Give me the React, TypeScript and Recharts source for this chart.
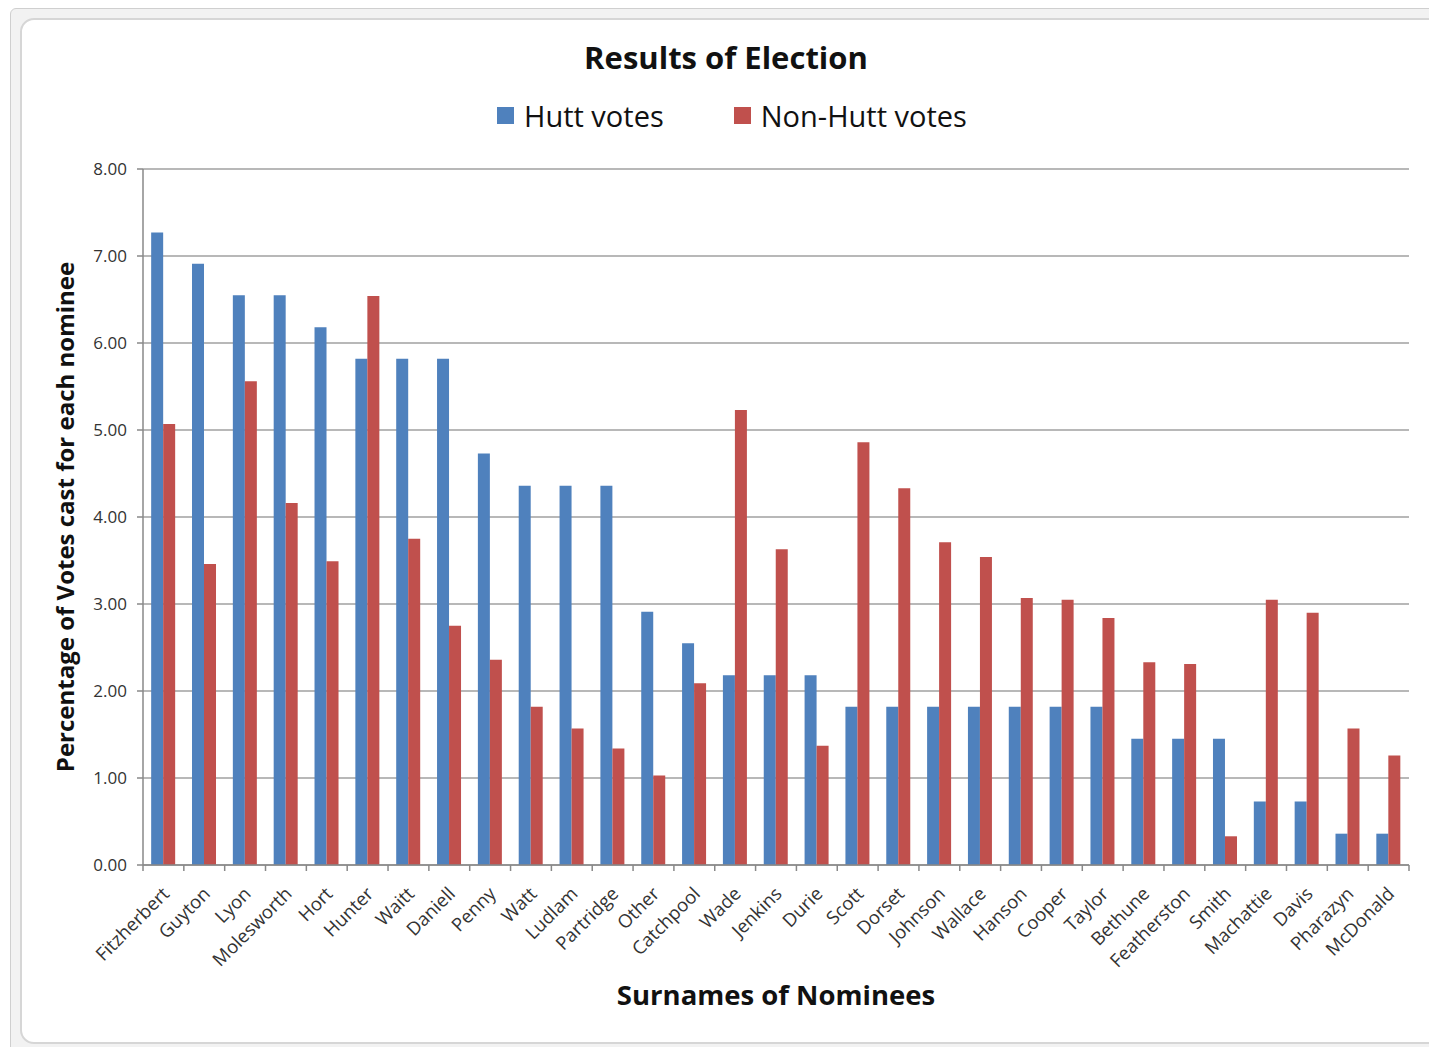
import React from 'react';
import {
  BarChart,
  Bar,
  XAxis,
  YAxis,
  CartesianGrid,
} from 'recharts';

const nominees = [
  'Fitzherbert', 'Guyton', 'Lyon', 'Molesworth', 'Hort', 'Hunter', 'Waitt',
  'Daniell', 'Penny', 'Watt', 'Ludlam', 'Partridge', 'Other', 'Catchpool',
  'Wade', 'Jenkins', 'Durie', 'Scott', 'Dorset', 'Johnson', 'Wallace',
  'Hanson', 'Cooper', 'Taylor', 'Bethune', 'Featherston', 'Smith',
  'Machattie', 'Davis', 'Pharazyn', 'McDonald',
];

const huttVotes = [
  7.27, 6.91, 6.55, 6.55, 6.18, 5.82, 5.82, 5.82, 4.73, 4.36, 4.36, 4.36,
  2.91, 2.55, 2.18, 2.18, 2.18, 1.82, 1.82, 1.82, 1.82, 1.82, 1.82, 1.82,
  1.45, 1.45, 1.45, 0.73, 0.73, 0.36, 0.36,
];

const nonHuttVotes = [
  5.07, 3.46, 5.56, 4.16, 3.49, 6.54, 3.75, 2.75, 2.36, 1.82, 1.57, 1.34,
  1.03, 2.09, 5.23, 3.63, 1.37, 4.86, 4.33, 3.71, 3.54, 3.07, 3.05, 2.84,
  2.33, 2.31, 0.33, 3.05, 2.90, 1.57, 1.26,
];

const yTicks = [0, 1, 2, 3, 4, 5, 6, 7, 8];

const chartData = nominees.map((name, i) => ({
  name,
  hutt: huttVotes[i],
  nonHutt: nonHuttVotes[i],
}));

const FONT = '"Open Sans", "Liberation Sans", sans-serif';
const BLUE = '#4F81BD';
const RED = '#C0504D';

// category labels sit under the slot, tick marks go on the slot borders
const NomineeTick = (props: any) => {
  const { x, y, payload, width, visibleTicksCount, index } = props;
  const step = width / visibleTicksCount;
  const lx = x + 7;
  const ly = y + 30;
  return (
    <g>
      <line x1={x - step / 2} x2={x - step / 2} y1={y} y2={y + 6} stroke="#888" strokeWidth={1.5} />
      {index === visibleTicksCount - 1 && (
        <line x1={x + step / 2} x2={x + step / 2} y1={y} y2={y + 6} stroke="#888" strokeWidth={1.5} />
      )}
      <text
        x={lx}
        y={ly}
        textAnchor="end"
        fontSize={18.5}
        fontFamily={FONT}
        fill="#333"
        transform={`rotate(-45, ${lx}, ${ly})`}
      >
        {payload.value}
      </text>
    </g>
  );
};

export default function App() {
  return (
    <div style={{ position: 'absolute', left: 0, top: 0, width: 1429, height: 1047, overflow: 'hidden', background: '#fff' }}>
      <div
        style={{
          position: 'absolute', left: 10, top: 8, width: 1440, height: 1050,
          background: '#f2f2f2', border: '1px solid #cfcfcf', borderRadius: 6,
        }}
      />
      <div
        style={{
          position: 'absolute', left: 20, top: 18, width: 1430, height: 1022,
          background: '#fff', border: '2px solid #d6d6d6', borderRadius: 14,
        }}
      />
      <div
        style={{
          position: 'absolute', left: 0, top: 36, width: 1452, textAlign: 'center',
          fontFamily: FONT, fontWeight: 700, fontSize: 31, color: '#111',
        }}
      >
        Results of Election
      </div>
      <div
        style={{
          position: 'absolute', left: 497, top: 96, display: 'flex',
          fontFamily: FONT, fontSize: 29, color: '#111', whiteSpace: 'nowrap',
        }}
      >
        <div style={{ display: 'flex', alignItems: 'center', marginRight: 70 }}>
          <span style={{ width: 17, height: 17, background: BLUE, display: 'inline-block', marginRight: 10 }} />
          Hutt votes
        </div>
        <div style={{ display: 'flex', alignItems: 'center' }}>
          <span style={{ width: 17, height: 17, background: RED, display: 'inline-block', marginRight: 10 }} />
          Non-Hutt votes
        </div>
      </div>
      <div style={{ position: 'absolute', left: 0, top: 0 }}>
        <BarChart
          width={1429}
          height={1047}
          data={chartData}
          margin={{ top: 169, right: 20, bottom: 62, left: 83 }}
          barCategoryGap="20%"
          barGap={0}
        >
          <CartesianGrid vertical={false} stroke="#a0a0a0" strokeWidth={1.5} />
          <XAxis
            dataKey="name"
            interval={0}
            height={120}
            tickLine={false}
            tickSize={0}
            tickMargin={0}
            axisLine={{ stroke: '#888', strokeWidth: 1.5 }}
            tick={<NomineeTick />}
            label={{
              value: 'Surnames of Nominees',
              position: 'bottom',
              offset: 0,
              style: { fontFamily: FONT, fontWeight: 700, fontSize: 27.5, fill: '#111' },
            }}
          />
          <YAxis
            width={60}
            domain={[0, 8]}
            ticks={yTicks}
            tickFormatter={(v: number) => v.toFixed(2)}
            tickSize={6}
            tickMargin={10}
            tickLine={{ stroke: '#888', strokeWidth: 1.5 }}
            axisLine={{ stroke: '#888', strokeWidth: 1.5 }}
            tick={{ fontSize: 17, fontFamily: FONT, fill: '#333' }}
            label={{
              value: 'Percentage of Votes cast for each nominee',
              angle: -90,
              position: 'left',
              offset: 18,
              style: { fontFamily: FONT, fontWeight: 700, fontSize: 24, fill: '#111', textAnchor: 'middle' },
            }}
          />
          <Bar dataKey="hutt" name="Hutt votes" fill={BLUE} isAnimationActive={false} />
          <Bar dataKey="nonHutt" name="Non-Hutt votes" fill={RED} isAnimationActive={false} />
        </BarChart>
      </div>
    </div>
  );
}
